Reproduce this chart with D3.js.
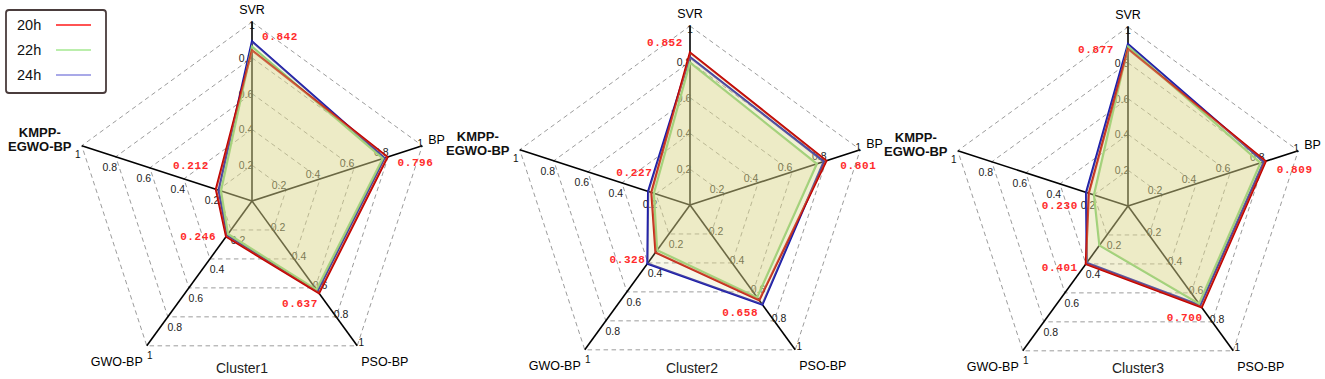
<!DOCTYPE html>
<html>
<head>
<meta charset="utf-8">
<script src="https://cdn.jsdelivr.net/npm/d3@7"></script>
<style>
  body { margin: 0; background: #fff; }
  svg { display: block; font-family: 'Liberation Sans', Arial, sans-serif; }
</style>
</head>
<body>
<svg id="chart" width="1325" height="379"></svg>
<script>
// data
const clusters = ['Cluster1', 'Cluster2', 'Cluster3']
const axes = ['SVR', 'BP', 'PSO-BP', 'GWO-BP', 'KMPP-EGWO-BP']
const seriesNames = ['20h', '22h', '24h']
const ticks = [0.2, 0.4, 0.6, 0.8, 1]

// one row per cluster, columns follow axes
const values20h = [
    [0.842, 0.796, 0.637, 0.246, 0.212],
    [0.852, 0.801, 0.658, 0.328, 0.227],
    [0.877, 0.809, 0.700, 0.401, 0.230]
]
const values22h = [
    [0.862, 0.768, 0.612, 0.228, 0.182],
    [0.795, 0.745, 0.638, 0.312, 0.212],
    [0.890, 0.778, 0.675, 0.272, 0.200]
]
const values24h = [
    [0.892, 0.778, 0.622, 0.236, 0.196],
    [0.826, 0.786, 0.688, 0.405, 0.246],
    [0.905, 0.797, 0.686, 0.392, 0.246]
]

// layout
const centersX = [252, 690, 1128]
const centersY = [201, 205, 206]
const titleX = [242, 692, 1138]
const R = 179
const strokeColors = ['#c00000', '#7ccf72', '#1a1aaa']
const legendColors = ['#ff1a1a', '#a4e890', '#8c8ce0']
const fillColor = 'rgba(220, 217, 140, 0.2)'

// tick label offset from the point on each axis
const tickOffsets = [[-6, 0], [-7, -5], [5, -3], [7, 10], [-6, 10]]
const oneOffsets = [[0, 3], [-2, -2], [4, -3], [3, 10], [-4, 9]]
// red value label offsets from the 20h vertex, per cluster / axis
const redOffsets = [
    [[28, -13], [28, 6], [-19, 11], [-28, 0], [-25, -23]],
    [[-25, -10], [32, 5], [-19, 13], [-28, 8], [-17, -19]],
    [[-32, 1], [29, 9], [-17, 11], [-26, 4], [-29, 13]]
]

const svg = d3.select('#chart')
const r = d3.scaleLinear().domain([0, 1]).range([0, R])
const angle = d3.scaleLinear().domain([0, axes.length]).range([0, 2 * Math.PI])

const pt = (i, v) => [r(v) * Math.sin(angle(i)), -r(v) * Math.cos(angle(i))]

const radial = d3.lineRadial()
    .angle((d, i) => angle(i))
    .radius(d => r(d))
    .curve(d3.curveLinearClosed)

const allSeries = [values20h, values22h, values24h]

clusters.forEach((name, c) => {
    const g = svg.append('g')
        .attr('transform', `translate(${centersX[c]},${centersY[c]})`)

    // dashed grid
    g.selectAll('path.grid')
        .data(ticks)
        .join('path')
        .attr('class', 'grid')
        .attr('d', t => radial(axes.map(() => t)))
        .attr('fill', 'none')
        .attr('stroke', '#9c9c9c')
        .attr('stroke-width', 1)
        .attr('stroke-dasharray', '4.5,3.5')

    // axis lines
    g.selectAll('line.axis')
        .data(axes)
        .join('line')
        .attr('class', 'axis')
        .attr('x1', 0).attr('y1', 0)
        .attr('x2', (d, i) => pt(i, 1)[0])
        .attr('y2', (d, i) => pt(i, 1)[1])
        .attr('stroke', '#000')
        .attr('stroke-width', 1.6)

    // tick labels
    axes.forEach((a, i) => {
        g.selectAll(null)
            .data(ticks.slice(0, -1))
            .join('text')
            .attr('x', t => pt(i, t)[0] + tickOffsets[i][0])
            .attr('y', t => pt(i, t)[1] + tickOffsets[i][1])
            .attr('text-anchor', 'middle')
            .attr('dominant-baseline', 'central')
            .attr('font-size', 10.5)
            .attr('fill', '#222')
            .text(t => t)
    })

    // series outlines (below the fills, like the original)
    const order = [2, 1, 0]
    order.forEach(s => {
        g.append('path')
            .attr('d', radial(allSeries[s][c]))
            .attr('fill', 'none')
            .attr('stroke', strokeColors[s])
            .attr('stroke-width', 2.2)
            .attr('stroke-linejoin', 'miter')
    })

    // translucent fills
    order.forEach(s => {
        g.append('path')
            .attr('d', radial(allSeries[s][c]))
            .attr('fill', fillColor)
            .attr('stroke', 'none')
    })

    // "1" at axis ends
    axes.forEach((a, i) => {
        const [x, y] = pt(i, 1)
        g.append('text')
            .attr('x', x + oneOffsets[i][0])
            .attr('y', y + oneOffsets[i][1])
            .attr('text-anchor', 'middle')
            .attr('dominant-baseline', 'central')
            .attr('font-size', 10)
            .attr('fill', '#111')
            .text('1')
    })

    // axis names
    const ends = axes.map((a, i) => pt(i, 1))
    g.append('text')
        .attr('x', ends[0][0]).attr('y', ends[0][1] - 12)
        .attr('text-anchor', 'middle').attr('dominant-baseline', 'central')
        .attr('font-size', 12.5).text(axes[0])
    g.append('text')
        .attr('x', ends[1][0] + 6).attr('y', ends[1][1] - 6)
        .attr('text-anchor', 'start').attr('dominant-baseline', 'central')
        .attr('font-size', 12.5).text(axes[1])
    g.append('text')
        .attr('x', ends[2][0] + 4).attr('y', ends[2][1] + 16)
        .attr('text-anchor', 'start').attr('dominant-baseline', 'central')
        .attr('font-size', 12.5).text(axes[2])
    g.append('text')
        .attr('x', ends[3][0] - 4).attr('y', ends[3][1] + 16)
        .attr('text-anchor', 'end').attr('dominant-baseline', 'central')
        .attr('font-size', 12.5).text(axes[3])
    const km = g.append('text')
        .attr('text-anchor', 'middle')
        .attr('font-size', 13)
        .attr('font-weight', 'bold')
        .attr('fill', '#111')
    km.append('tspan')
        .attr('x', ends[4][0] - 42).attr('y', ends[4][1] - 9)
        .text('KMPP-')
    km.append('tspan')
        .attr('x', ends[4][0] - 42).attr('y', ends[4][1] + 5.5)
        .text('EGWO-BP')

    // red value labels of the 20h series
    const fmt = d3.format('.3f')
    g.selectAll('text.val')
        .data(values20h[c])
        .join('text')
        .attr('class', 'val')
        .attr('x', (v, i) => pt(i, v)[0] + redOffsets[c][i][0])
        .attr('y', (v, i) => pt(i, v)[1] + redOffsets[c][i][1])
        .attr('text-anchor', 'middle')
        .attr('dominant-baseline', 'central')
        .attr('font-family', "'Liberation Mono', 'Courier New', monospace")
        .attr('font-weight', 'bold')
        .attr('font-size', 11)
        .attr('letter-spacing', 0.6)
        .attr('fill', '#ff2b2b')
        .text(v => fmt(v))

    // cluster title
    svg.append('text')
        .attr('x', titleX[c]).attr('y', 368)
        .attr('text-anchor', 'middle').attr('dominant-baseline', 'central')
        .attr('font-size', 14)
        .attr('fill', '#222')
        .text(name)
})

// legend
const legend = svg.append('g')
legend.append('rect')
    .attr('x', 6).attr('y', 10)
    .attr('width', 100).attr('height', 83)
    .attr('rx', 3)
    .attr('fill', '#fff')
    .attr('stroke', '#4a3c3c')
    .attr('stroke-width', 1.8)

const ly = d3.scalePoint().domain(seriesNames).range([25, 75])
legend.selectAll('text')
    .data(seriesNames)
    .join('text')
    .attr('x', 17)
    .attr('y', d => ly(d))
    .attr('dominant-baseline', 'central')
    .attr('font-size', 14.5)
    .attr('fill', '#111')
    .text(d => d)
legend.selectAll('line')
    .data(seriesNames)
    .join('line')
    .attr('x1', 56).attr('x2', 91)
    .attr('y1', d => ly(d)).attr('y2', d => ly(d))
    .attr('stroke', (d, i) => legendColors[i])
    .attr('stroke-width', 1.6)
</script>
</body>
</html>
